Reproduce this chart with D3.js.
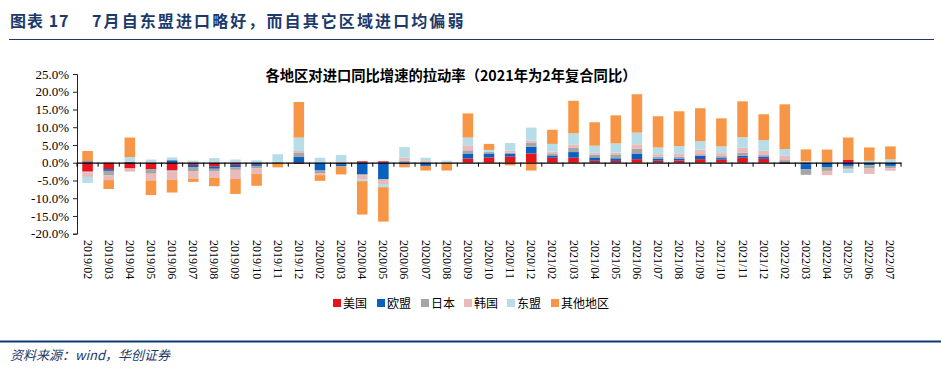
<!DOCTYPE html>
<html><head><meta charset="utf-8">
<script src="https://cdn.jsdelivr.net/npm/d3@7"></script>
<style>
body{margin:0;background:#fff;}
svg{display:block;}
</style></head>
<body>
<svg id="c" width="941" height="378"></svg>
<script>
const categories = ["2019/02","2019/03","2019/04","2019/05","2019/06","2019/07","2019/08","2019/09","2019/10","2019/11","2019/12",
"2020/02","2020/03","2020/04","2020/05","2020/06","2020/07","2020/08","2020/09","2020/10","2020/11","2020/12",
"2021/02","2021/03","2021/04","2021/05","2021/06","2021/07","2021/08","2021/09","2021/10","2021/11","2021/12",
"2022/02","2022/03","2022/04","2022/05","2022/06","2022/07"];
const seriesNames = ["美国","欧盟","日本","韩国","东盟","其他地区"];
const usa   = [-2.5,-1.8,-1.6,-1.8,-2.1,-0.6,-1.1,-0.6,-0.4,0,-0.3, 0,-0.4,0.4,0.4,0,0,0,1.2,1.5,1.7,2.6, 1.4,1.4,0.55,0.5,1.0,0.55,0.65,1.0,0.85,1.4,1.1, 0.2,-0.4,0,0.9,0,0];
const eu    = [0.4,-0.5,0.2,-0.1,0.7,-0.6,-0.6,-0.7,-0.5,0.1,1.6, -2.2,-0.6,-3.2,-4.6,-0.5,-0.9,0,1.4,1.1,0.75,1.9, 0.65,1.6,0.95,0.75,1.6,0.65,0.55,0.95,0.45,0.55,0.65, -0.3,-1.5,-1.2,-0.9,-0.65,-0.9];
const japan = [-0.2,-1.3,0,-1.2,-0.3,-1.3,-0.8,-0.7,-0.6,0,1.3, -0.7,-0.2,-0.3,-0.2,0.6,0,0,0.9,0.4,0.4,1.1, 0.4,1.3,0.75,1.1,1.3,0.55,0.5,0.45,0.55,0.85,0.4, 0.55,-1.5,-1.1,-0.8,-1.0,-0.65];
const korea = [-1.3,-1.3,-0.9,-1.9,-2.4,-2.0,-1.7,-2.6,-1.7,0,0.4, -0.6,0,-1.1,-1.2,0.8,0.5,0,1.4,0,0.5,0.6, 0.65,0.85,0.55,0.5,1.3,0.65,0.9,1.3,0.85,1.4,1.2, 1.2,0,-1.2,-0.2,-1.5,-0.7];
const asean = [-1.7,0.3,1.4,0.9,0.8,0.6,1.3,0.9,0.7,2.3,3.8, 1.4,2.2,-0.6,-0.9,3.0,0.9,0.6,2.2,0.6,2.2,3.7, 2.2,3.1,2.0,2.6,3.3,1.9,2.1,2.35,1.9,3.0,3.0, 1.9,0.45,0.2,-1.0,0.55,0.95];
const other = [2.9,-2.5,5.5,-4.1,-3.6,-0.9,-2.4,-4.2,-3.3,-1.3,10.0, -1.6,-2.1,-9.4,-9.7,-0.8,-1.3,-2.2,6.8,1.7,-0.75,-2.2, 4.0,9.2,6.6,7.9,10.8,8.8,9.8,9.3,7.9,10.1,7.3, 12.6,3.3,3.5,6.2,3.75,3.65];
const yTicks = [25,20,15,10,5,0,-5,-10,-15,-20];
const colors = ["#E8131B","#0A60BE","#A5A5A5","#E8BABA","#B7DEE8","#F79646"];

const svg = d3.select("#c");
const seriesArr = [usa, eu, japan, korea, asean, other];
const rows = categories.map((c,i)=>{const r={cat:c}; seriesNames.forEach((s,j)=>r[s]=seriesArr[j][i]); return r;});

const x = d3.scaleBand().domain(categories).range([77,901]).paddingInner(0.5).paddingOuter(0.25);
const y = d3.scaleLinear().domain([-20,25]).range([233.7,74]);

// header
svg.append("text").attr("x",10).attr("y",27).attr("fill","#1B3A6B")
  .attr("font-family","'Noto Sans CJK SC',sans-serif").attr("font-weight","bold").attr("font-size",16)
  .attr("letter-spacing",1).text("图表 17");
svg.append("text").attr("x",92).attr("y",27).attr("fill","#1B3A6B")
  .attr("font-family","'Noto Sans CJK SC',sans-serif").attr("font-weight","bold").attr("font-size",16).attr("letter-spacing",2.1)
  .text("7月自东盟进口略好，而自其它区域进口均偏弱");
svg.append("line").attr("x1",9).attr("x2",934).attr("y1",39.5).attr("y2",39.5).attr("stroke","#1B3A6B").attr("stroke-width",1.2);

// chart title
svg.append("text").attr("x",451).attr("y",81).attr("text-anchor","middle")
  .attr("font-family","'Noto Sans CJK SC',sans-serif").attr("font-weight","bold").attr("font-size",14.3)
  .text("各地区对进口同比增速的拉动率（2021年为2年复合同比）");

// bars
const stack = d3.stack().keys(seriesNames).offset(d3.stackOffsetDiverging);
const layers = stack(rows);
svg.append("g").selectAll("g").data(layers).join("g").attr("fill",(d,i)=>colors[i])
  .selectAll("rect").data(d=>d).join("rect")
  .attr("x",d=>x(d.data.cat)).attr("width",x.bandwidth())
  .attr("y",d=>y(Math.max(d[0],d[1]))).attr("height",d=>Math.abs(y(d[0])-y(d[1])));

// y axis
const yAxis = d3.axisLeft(y).tickValues(yTicks).tickSize(4).tickFormat(d=>d.toFixed(1)+"%");
const gy = svg.append("g").attr("transform","translate(77,0)").call(yAxis);
gy.select(".domain").attr("stroke","#222");
gy.selectAll(".tick line").attr("stroke","#222");
gy.selectAll("text").attr("font-family","'Liberation Serif','Times New Roman',serif").attr("font-size",13).attr("fill","#000").attr("x",-8);

// x axis at zero
const xAxis = d3.axisBottom(x).tickSize(0).tickFormat("");
const gx = svg.append("g").attr("transform",`translate(0,${y(0)})`).call(xAxis);
gx.select(".domain").attr("stroke","#000").attr("stroke-width",1.3);
svg.append("g").selectAll("line").data(d3.range(categories.length+1)).join("line")
  .attr("x1",i=>77+i*x.step()).attr("x2",i=>77+i*x.step())
  .attr("y1",y(0)).attr("y2",y(0)+4).attr("stroke","#000");

// x labels (rotated)
svg.append("g").selectAll("text").data(categories).join("text")
  .attr("transform",d=>`translate(${x(d)+x.bandwidth()/2-4},240) rotate(90)`)
  .attr("font-family","'Liberation Serif','Times New Roman',serif").attr("font-size",12)
  .text(d=>d);

// legend
const legX = [333,377,421,464,507,551];
const lg = svg.append("g").selectAll("g").data(seriesNames).join("g")
  .attr("transform",(d,i)=>`translate(${legX[i]},299)`);
lg.append("rect").attr("width",8).attr("height",8).attr("fill",(d,i)=>colors[i]);
lg.append("text").attr("x",10).attr("y",8.5).attr("font-family","'Noto Sans CJK SC',serif").attr("font-size",12).text(d=>d);

// footer
svg.append("line").attr("x1",0).attr("x2",941).attr("y1",341.5).attr("y2",341.5).attr("stroke","#0B3A70").attr("stroke-width",2);
svg.append("text").attr("x",10).attr("y",360).attr("fill","#1B3A6B").attr("font-style","italic")
  .attr("font-family","'Noto Sans CJK SC',sans-serif").attr("font-size",13)
  .text("资料来源：wind，华创证券");
</script>
</body></html>
